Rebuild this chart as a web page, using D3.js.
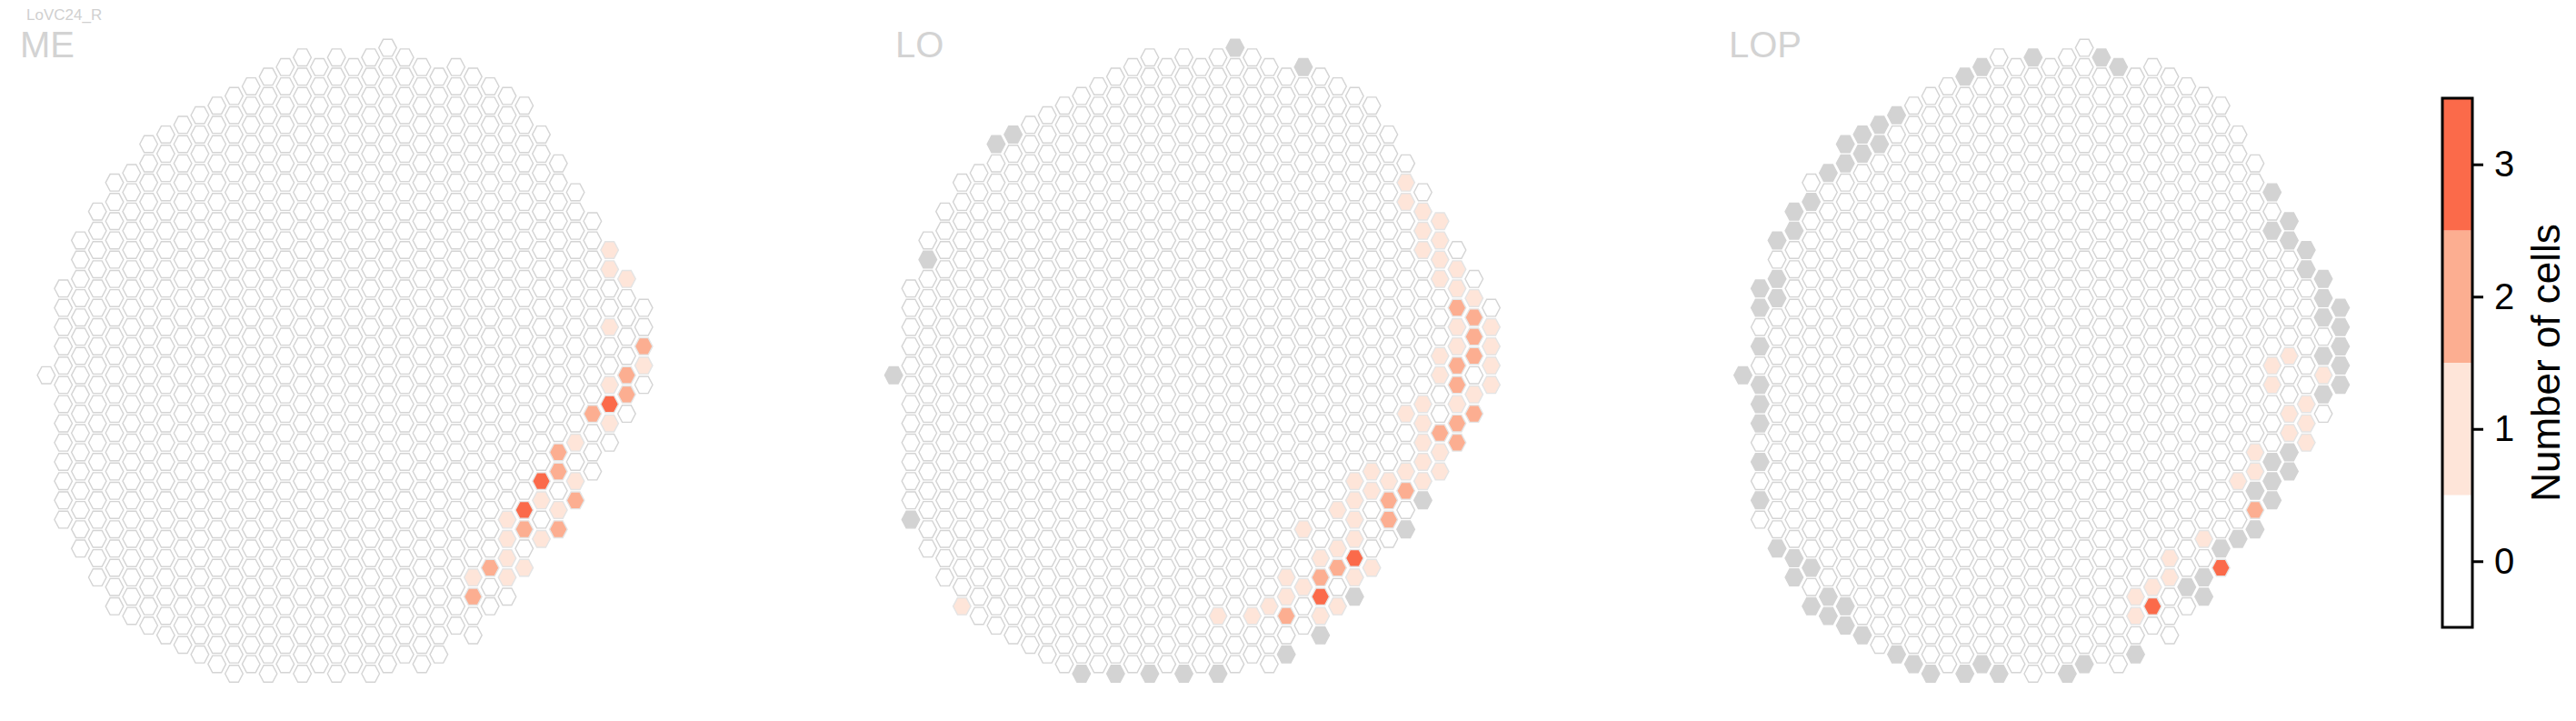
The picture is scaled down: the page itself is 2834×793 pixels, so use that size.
<!DOCTYPE html>
<html><head><meta charset="utf-8">
<script src="https://cdn.jsdelivr.net/npm/d3@7"></script>
<style>
body{margin:0;background:#fff;}
svg{display:block;font-family:"Liberation Sans",Arial,Helvetica,sans-serif;}
</style>
</head><body>
<svg id="chart" width="2834" height="793"></svg>
<script>
// ---------------- data ----------------
const neuronName = "LoVC24_R";
const panelNames = ["ME", "LO", "LOP"];
// hex eye-map columns: for each column index, first and last half-row index
const colIndex  = d3.range(36);
const colTop    = [0,-9,-14,-17,-20,-21,-24,-25,-26,-27,-28,-29,-30,-31,-32,-33,-32,-33,-32,-33,-34,-33,-32,-31,-32,-31,-30,-29,-28,-25,-22,-19,-16,-13,-10,-7];
const colBottom = [0,15,18,21,24,25,26,27,28,29,30,31,30,31,30,31,30,31,30,31,30,29,30,29,26,27,24,23,20,17,16,13,10,7,4,1];

// [column, half-row, number of cells]
const meCells = [[33,-13,1],[33,-11,1],[34,-10,1],[33,-5,1],[35,-3,2],[35,-1,1],[34,0,2],[33,1,1],[34,2,2],[33,3,3],[32,4,2],[33,5,1],[31,7,1],[30,8,2],[30,10,2],[29,11,3],[31,11,1],[29,13,1],[31,13,2],[30,14,1],[28,14,3],[27,15,1],[28,16,2],[30,16,2],[29,17,1],[27,17,1],[27,19,1],[28,20,1],[26,20,2],[25,21,1],[27,21,1],[25,23,2]];
const loCells = [[30,-20,1],[30,-18,1],[31,-17,1],[32,-16,1],[31,-15,1],[32,-14,1],[31,-13,1],[32,-12,1],[33,-11,1],[32,-10,1],[33,-9,1],[34,-8,1],[33,-7,2],[34,-6,2],[33,-5,1],[35,-5,1],[34,-4,2],[33,-3,1],[35,-3,1],[32,-2,1],[34,-2,2],[33,-1,2],[35,-1,1],[32,0,1],[33,1,2],[35,1,1],[34,2,1],[31,3,1],[33,3,1],[30,4,1],[34,4,2],[31,5,1],[33,5,2],[32,6,2],[31,7,1],[33,7,2],[32,8,1],[31,9,1],[32,10,1],[30,10,1],[31,11,1],[28,10,1],[27,11,1],[29,11,1],[30,12,2],[28,12,1],[27,13,1],[29,13,2],[26,14,1],[29,15,2],[27,15,1],[24,16,1],[27,17,1],[26,18,1],[25,19,1],[27,19,3],[28,20,1],[26,20,2],[23,21,1],[25,21,2],[27,21,1],[24,22,1],[23,23,1],[25,23,3],[22,24,1],[26,24,1],[19,25,1],[21,25,1],[23,25,2],[25,25,1],[4,24,1]];
const lopCells = [[32,-2,1],[31,-1,1],[31,1,1],[34,0,1],[33,3,1],[32,4,1],[33,5,1],[32,6,1],[33,7,1],[30,8,1],[30,10,1],[29,11,1],[30,14,2],[27,17,1],[28,20,3],[25,19,1],[25,21,1],[24,22,1],[23,23,1],[24,24,3],[23,25,1]];
// columns without data (grey)
const meGray = [];
const loGray = [[0,0],[2,-12],[6,-24],[7,-25],[1,15],[11,31],[13,31],[15,31],[17,31],[19,31],[20,-34],[24,-32],[31,13],[30,16],[27,23],[25,27],[23,29]];
const lopGray = [[17,-33],[14,-32],[13,-31],[9,-27],[8,-26],[7,-25],[8,-24],[6,-24],[7,-23],[6,-22],[5,-21],[4,-18],[3,-17],[3,-15],[2,-14],[2,-10],[2,-8],[1,-9],[1,-7],[1,-3],[0,0],[1,1],[1,3],[1,5],[1,9],[1,13],[2,18],[3,19],[4,20],[3,21],[5,23],[4,24],[5,25],[6,24],[6,26],[7,27],[9,29],[10,30],[11,31],[13,31],[14,30],[15,31],
  [21,-33],[22,-32],[31,-19],[32,-16],[31,-15],[32,-14],[33,-13],[33,-11],[34,-10],[34,-8],[35,-7],[34,-6],[35,-5],[35,-3],[34,-2],[35,-1],[35,1],[34,2],[32,8],[32,10],[31,9],[31,11],[30,12],[31,13],[30,16],[29,17],[28,18],[27,21],[26,22],[27,23],[23,29],[20,30],[19,31]];

const legendValues = [0, 1, 2, 3];
const legendColors = ["#ffffff", "#fee5d9", "#fcae91", "#fb6a4a"];
const legendTitle = "Number of cells";

// ---------------- layout ----------------
const svg = d3.select("#chart");
const panelX0 = [50.9, 983.2, 1917.5];
const colStep = 18.78;
const hexW = 19.6, hexH = 18.6;
const yScale = d3.scaleLinear().domain([-34, 31]).range([52.6, 741.0]);
const color = d3.scaleOrdinal().domain(legendValues).range(legendColors);
const GRAY = "#d3d3d3";

const hexPath = (() => {
  const w = hexW / 2, h = hexH / 2;
  return d3.line()([[-w,0],[-w/2,-h],[w/2,-h],[w,0],[w/2,h],[-w/2,h]]) + "Z";
})();

// all grid positions
const grid = [];
colIndex.forEach(c => {
  for (let r = colTop[c]; r <= colBottom[c]; r += 2) grid.push([c, r]);
});

const panelCells = [meCells, loCells, lopCells];
const panelGray = [meGray, loGray, lopGray];

panelNames.forEach((name, i) => {
  const xScale = d3.scaleLinear().domain([0, 35]).range([panelX0[i], panelX0[i] + 35 * colStep]);
  const valMap = new Map();
  panelGray[i].forEach(([c, r]) => valMap.set(c + "," + r, "g"));
  panelCells[i].forEach(([c, r, v]) => valMap.set(c + "," + r, v));
  const data = grid.map(([c, r]) => ({c, r, v: valMap.has(c + "," + r) ? valMap.get(c + "," + r) : 0}));
  data.sort((a, b) => (a.v === 0 ? 0 : 1) - (b.v === 0 ? 0 : 1));
  const g = svg.append("g");
  g.selectAll("path").data(data).join("path")
    .attr("d", hexPath)
    .attr("transform", d => `translate(${xScale(d.c)},${yScale(d.r)})`)
    .attr("fill", d => d.v === "g" ? GRAY : color(d.v))
    .attr("stroke", d => d.v === 0 ? "#d4d4d4" : (d.v === "g" ? GRAY : "#e4e4e4"))
    .attr("stroke-width", 1.4);
});

// titles
const titleX = [22, 985, 1902];
panelNames.forEach((name, i) => {
  svg.append("text").attr("x", titleX[i]).attr("y", 63)
    .attr("font-size", 40).attr("fill", "#d3d3d3").text(name);
});
svg.append("text").attr("x", 29).attr("y", 22).attr("font-size", 17)
  .attr("fill", "#d0d0d0").text(neuronName);

// colorbar
const cbX = 2687, cbW = 33;
const cbScale = d3.scaleLinear().domain([-0.5, 3.5]).range([690, 108]);
const cb = svg.append("g");
cb.selectAll("rect.seg").data(legendValues).join("rect").attr("class", "seg")
  .attr("x", cbX).attr("width", cbW)
  .attr("y", d => cbScale(d + 0.5)).attr("height", d => cbScale(d - 0.5) - cbScale(d + 0.5))
  .attr("fill", d => color(d));
cb.append("rect").attr("x", cbX).attr("y", cbScale(3.5)).attr("width", cbW)
  .attr("height", cbScale(-0.5) - cbScale(3.5))
  .attr("fill", "none").attr("stroke", "#000").attr("stroke-width", 3);
const axis = cb.append("g").attr("transform", `translate(${cbX + cbW},0)`)
  .call(d3.axisRight(cbScale).tickValues(legendValues).tickFormat(d3.format("d")).tickSize(12).tickSizeOuter(0).tickPadding(12));
axis.select(".domain").remove();
axis.selectAll(".tick line").attr("stroke", "#000").attr("stroke-width", 3);
axis.selectAll(".tick text").attr("font-size", 40).attr("fill", "#000")
  .attr("font-family", "'Liberation Sans',Arial,sans-serif");
svg.append("text")
  .attr("transform", `translate(2800,${cbScale(1.5)}) rotate(-90)`)
  .attr("text-anchor", "middle").attr("dominant-baseline", "central")
  .attr("font-size", 44).attr("fill", "#000").text(legendTitle);
</script>
</body></html>
